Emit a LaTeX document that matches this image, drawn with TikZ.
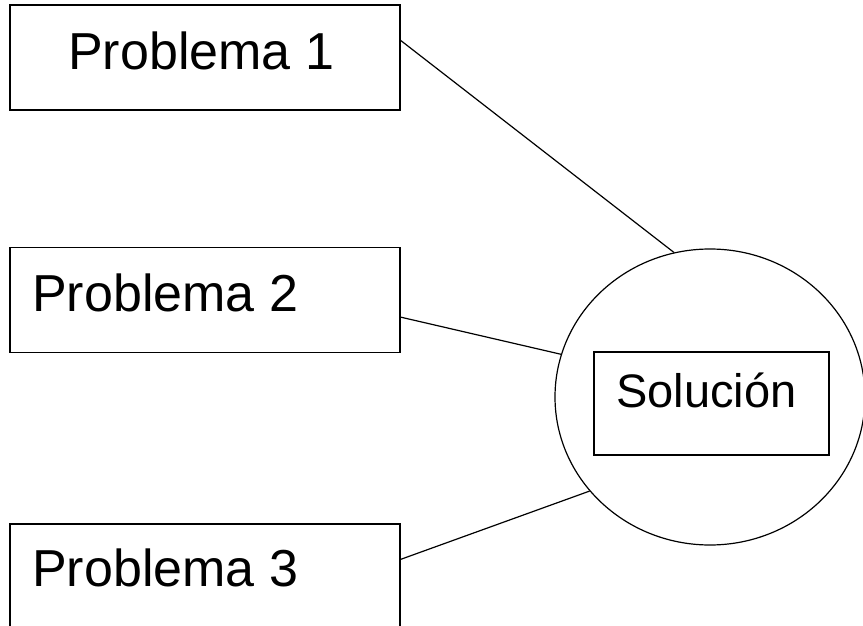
\documentclass[tikz,border=0pt]{standalone}
\usepackage{fontspec}
\setmainfont{Liberation Sans}
\usetikzlibrary{shapes.geometric}
\begin{document}
\begin{tikzpicture}[x=1pt,y=-1pt,
  box/.style={draw,line width=1.2pt,rectangle,inner sep=0pt,minimum width=390pt,minimum height=105pt},
  lbl/.style={anchor=base west,inner sep=0pt,font=\fontsize{52}{60}\selectfont},
  link/.style={line width=1.2pt}]
\useasboundingbox (0,0) rectangle (863,626);
\node[box] (p1) at (205,57.5) {};
\node[box] (p2) at (205,300) {};
\node[box] (p3) at (205,576.5) {};
\node[lbl] (t1) at (68,70) {Problema 1};
\node[lbl] (t2) at (32,311) {Problema 2};
\node[lbl] (t3) at (32,586) {Problema 3};
\node[draw,ellipse,line width=1.2pt,inner sep=0pt,minimum width=310pt,minimum height=296pt] (el) at (710,397) {};
\node[draw,line width=1.2pt,rectangle,inner sep=0pt,minimum width=235pt,minimum height=103pt] (sb) at (711.5,403.5) {};
\node[anchor=base west,inner sep=0pt,font=\fontsize{47}{56}\selectfont] (st) at (616,407) {Solución};
\draw[link] (p1.5) -- (el.104);
\draw[link] (p2.-5.3) -- (el.164);
\draw[link] (p3.5.4) -- (el.218);
\end{tikzpicture}
\end{document}
